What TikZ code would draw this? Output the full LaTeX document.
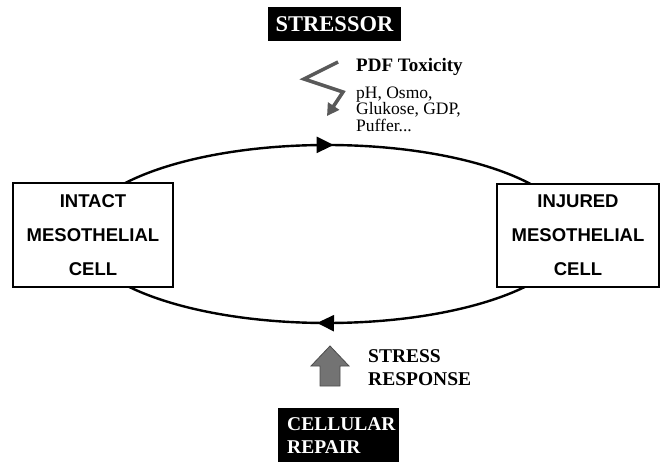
\documentclass[tikz,border=0pt]{standalone}
\usepackage{fontspec}
\setmainfont{Liberation Serif}
\newfontfamily\arialfont{Liberation Sans}
\usetikzlibrary{arrows.meta,decorations.markings}
\tikzset{
  cellbox/.style={draw=black, line width=2pt, fill=white, minimum width=160pt, minimum height=104pt, align=center, inner sep=0pt,
    font=\arialfont\bfseries\fontsize{18.5}{34}\selectfont},
  blackbox/.style={fill=black, text=white, inner sep=0pt, font=\bfseries},
  serifbold/.style={inner sep=0pt, font=\bfseries\fontsize{19.5}{22.5}\selectfont, align=left},
  cycleline/.style={line width=2.4pt},
}
\begin{document}
\begin{tikzpicture}[x=1pt,y=-1pt]
\useasboundingbox (0,0) rectangle (661,462);
% cycle ellipse
\coordinate (c) at (327,234);
\draw[cycleline, postaction={decorate}, decoration={markings,
   mark=at position 0.244 with {\arrowreversed{Triangle[length=17pt,width=16pt]}},
   mark=at position 0.741 with {\arrowreversed{Triangle[length=17pt,width=16pt]}}}]
  (c) ellipse [x radius=246pt, y radius=89pt];
% cell boxes
\node[cellbox] (intact) at (93,235) {INTACT\\MESOTHELIAL\\CELL};
\node[cellbox, minimum width=162pt, minimum height=103pt] (injured) at (578,235.5) {INJURED\\MESOTHELIAL\\CELL};
% stressor
\node[blackbox, minimum width=133pt, minimum height=34pt, font=\bfseries\fontsize{22.5}{24}\selectfont] (stressor) at (334.5,24) {STRESSOR};
\node[inner sep=0pt, anchor=base west, font=\bfseries\fontsize{19}{20}\selectfont] (pdf) at (356,72) {PDF Toxicity};
\node[inner sep=0pt, anchor=north west, align=left, font=\fontsize{17.5}{16.5}\selectfont] (params) at (356,86.5) {pH, Osmo,\\Glukose, GDP,\\Puffer...};
% lightning
\coordinate (l1) at (338,62);
\coordinate (l2) at (304,79);
\coordinate (l3) at (343,92);
\coordinate (l4) at (327,116);
\draw[line width=3.5pt, draw=black!65, line join=miter, -{Triangle[length=12pt,width=13pt]}] (l1) -- (l2) -- (l3) -- (l4);
% stress response block arrow
\fill[black!55, draw=black!70, line width=0.8pt] (320,386) -- (340,386) -- (340,366) -- (349,366) -- (330,346) -- (311,366) -- (320,366) -- cycle;
\node[serifbold, anchor=base west] (stress) at (368,385) {STRESS\\RESPONSE};
% cellular repair
\fill[black] (278,408) rectangle (399,465);
\node[serifbold, anchor=base west, text=white] (repair) at (287,453) {CELLULAR\\REPAIR};
\end{tikzpicture}
\end{document}
